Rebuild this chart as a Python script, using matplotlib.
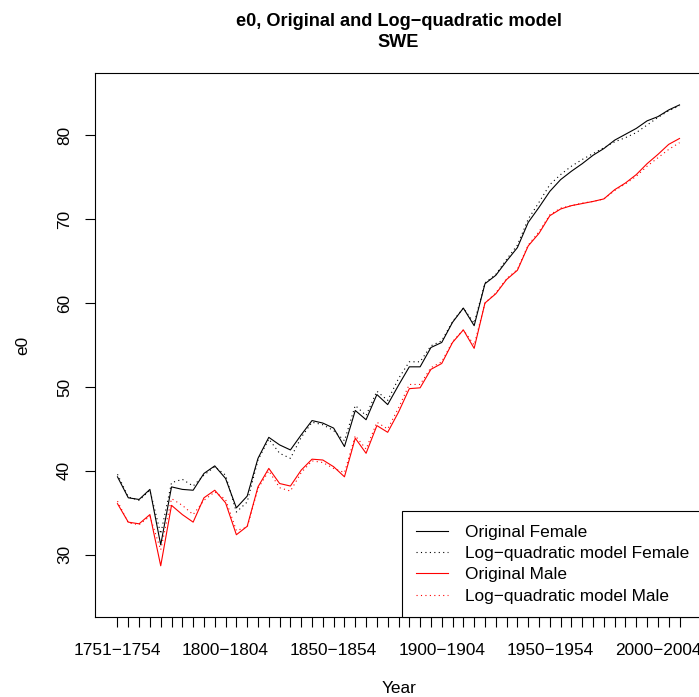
import matplotlib
matplotlib.use("Agg")
import matplotlib.pyplot as plt
import numpy as np

plt.rcParams['font.family'] = ['Liberation Sans', 'DejaVu Sans']

# periods 1751-1754, 1755-1759, ..., 2010-2014
periods = ["1751-1754"] + [f"{y}-{y + 4}" for y in range(1755, 2011, 5)]

female = [39.3, 36.8, 36.6, 37.8, 31.2, 38.1, 37.8, 37.7, 39.7, 40.6, 39.1, 35.6, 37.0,
          41.5, 44.0, 43.1, 42.5, 44.3, 46.0, 45.7, 45.1, 42.9, 47.2, 46.1, 49.1, 47.9,
          50.2, 52.4, 52.4, 54.7, 55.3, 57.7, 59.4, 57.3, 62.3, 63.3, 65.0, 66.6, 69.6,
          71.4, 73.3, 74.7, 75.7, 76.6, 77.6, 78.4, 79.4, 80.1, 80.8, 81.7, 82.2, 83.0, 83.6]
female_lq = [39.6, 36.9, 36.5, 37.7, 32.5, 38.6, 39.0, 38.2, 39.5, 40.5, 39.5, 35.1, 36.3,
             41.3, 43.8, 42.1, 41.5, 44.0, 45.8, 45.5, 44.8, 43.6, 47.8, 46.6, 49.5, 48.4,
             51.0, 53.0, 53.0, 54.9, 55.5, 57.8, 59.4, 57.6, 62.4, 63.4, 65.2, 66.9, 70.0,
             72.0, 74.1, 75.3, 76.3, 77.1, 77.8, 78.5, 79.2, 79.7, 80.3, 81.2, 82.1, 82.9, 83.5]
male = [36.1, 33.9, 33.7, 34.8, 28.7, 35.9, 34.8, 33.9, 36.8, 37.7, 36.2, 32.4, 33.4,
        38.1, 40.3, 38.5, 38.2, 40.1, 41.4, 41.3, 40.5, 39.3, 43.9, 42.1, 45.4, 44.6,
        47.0, 49.8, 49.9, 52.1, 52.8, 55.3, 56.8, 54.6, 60.0, 61.1, 62.8, 63.9, 66.8,
        68.3, 70.4, 71.2, 71.6, 71.85, 72.1, 72.4, 73.5, 74.3, 75.3, 76.6, 77.7, 78.9, 79.6]
male_lq = [36.4, 33.8, 33.6, 34.6, 30.6, 36.7, 35.9, 34.8, 36.5, 37.5, 36.6, 32.9, 33.3,
           37.9, 40.0, 38.0, 37.6, 39.8, 41.2, 41.0, 40.3, 39.8, 44.2, 42.6, 45.8, 45.0,
           47.5, 50.3, 50.3, 52.3, 53.0, 55.4, 56.8, 55.0, 60.0, 61.2, 62.9, 64.0, 66.9,
           68.5, 70.5, 71.3, 71.6, 71.9, 72.1, 72.4, 73.4, 74.2, 75.1, 76.3, 77.3, 78.3, 79.1]

x = np.arange(len(periods))

fig = plt.figure(figsize=(6.99, 6.97), dpi=100)
ax = fig.add_axes([95 / 699, 80 / 697, 607 / 699, 544 / 697])

dot = (0, (1, 3))
ax.plot(x, female, color='black', lw=0.8, label='Original Female')
ax.plot(x, female_lq, color='black', lw=0.8, ls=dot, label='Log\u2212quadratic model Female')
ax.plot(x, male, color='red', lw=0.8, label='Original Male')
ax.plot(x, male_lq, color='red', lw=0.8, ls=dot, label='Log\u2212quadratic model Male')

# R-style 4% axis extension
ax.set_xlim(-2.08, len(periods) - 1 + 2.08)
ax.set_ylim(25 - 2.4, 85 + 2.4)

ax.set_xticks(x)
ax.set_xticklabels([p.replace('-', '\u2212') if i % 10 == 0 else '' for i, p in enumerate(periods)])
ax.set_yticks([30, 40, 50, 60, 70, 80])
ax.tick_params(axis='both', length=7.5, width=0.8, labelsize=12.4, direction='out')
ax.tick_params(axis='x', pad=11)
ax.tick_params(axis='y', pad=9)
for lab in ax.get_yticklabels():
    lab.set_rotation(90)
    lab.set_va('center')

for s in ax.spines.values():
    s.set_linewidth(0.8)

ax.set_xlabel('Year', fontsize=12.4, labelpad=17)
ax.set_ylabel('e0', fontsize=12.4, labelpad=19)
ax.set_title('e0, Original and Log\u2212quadratic model\nSWE', fontsize=13.1,
             fontweight='bold', linespacing=1.27, pad=19)

leg = ax.legend(loc='lower right', borderaxespad=0, fancybox=False, edgecolor='black',
                fontsize=12.4, handlelength=1.9, handletextpad=0.95, borderpad=0.76,
                labelspacing=0.37, framealpha=1)
leg.get_frame().set_linewidth(0.8)

plt.savefig('out.png', dpi=100)
